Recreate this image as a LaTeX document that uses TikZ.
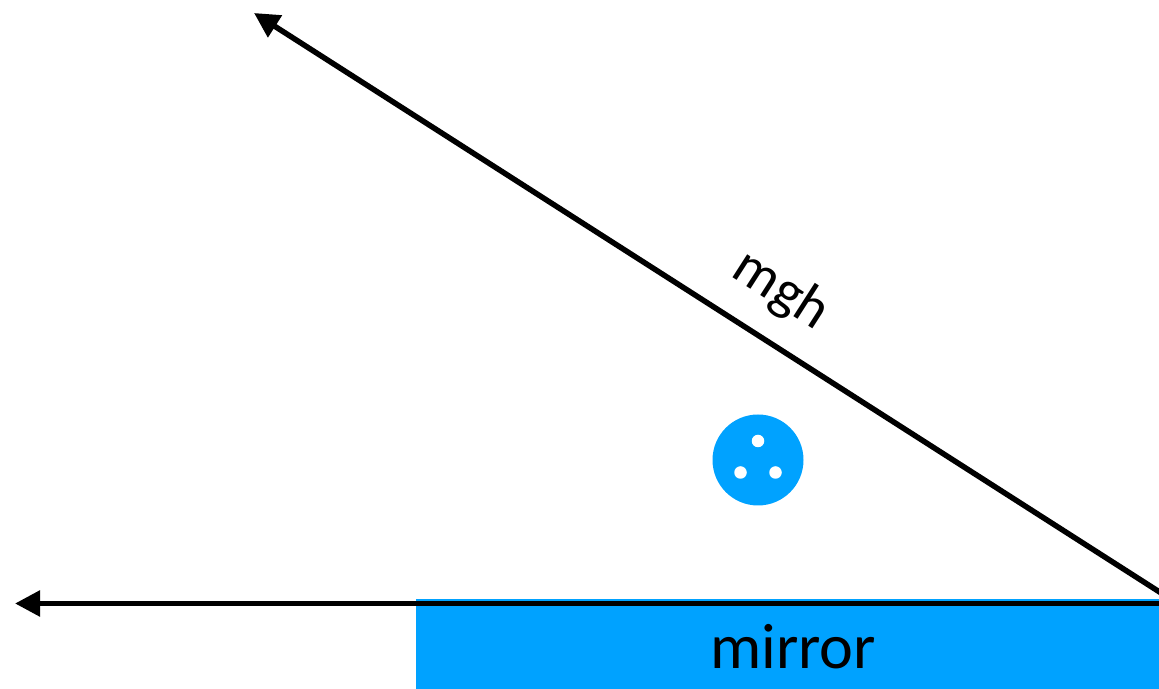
\documentclass[tikz,border=0pt]{standalone}
\usepackage{fontspec}
\setmainfont{Carlito}
\usetikzlibrary{arrows.meta, positioning}
\definecolor{mirrorblue}{HTML}{00A2FF}
\tikzset{
  ray/.style={-{Triangle[length=5mm, width=5mm]}, line width=1.1mm, color=black},
  mirrorbox/.style={rectangle, fill=mirrorblue, inner sep=0pt, minimum width=14.86cm, minimum height=1.79cm},
  ball/.style={circle, fill=mirrorblue, inner sep=0pt, minimum size=1.82cm},
  dot/.style={circle, fill=white, inner sep=0pt, minimum size=2.5mm},
  mirrorlabel/.style={font=\fontsize{36.5}{40}\selectfont},
  raylabel/.style={font=\fontsize{32.5}{40}\selectfont, rotate=-32.7},
}

\begin{document}
\begin{tikzpicture}
  \path[use as bounding box, clip] (0,0) rectangle (23.18,13.78);
  \node[mirrorbox, anchor=south east] (mirror) at (23.18,0) {};
  \node[mirrorlabel] (mirrortext) at (15.86,0.85) {mirror};
  \node[ball] (ball) at (15.16,4.58) {};
  \node[dot] (dota) at (15.16,4.96) {};
  \node[dot] (dotb) at (14.81,4.33) {};
  \node[dot] (dotc) at (15.51,4.33) {};
  \coordinate (hinge) at (23.3,1.71);
  \coordinate (hingeup) at (23.3,1.87);
  \coordinate (flat) at (0.3,1.71);
  \coordinate (steep) at (5.08,13.52);
  \draw[ray] (hinge) -- (flat);
  \draw[ray] (hingeup) -- (steep);
  \node[raylabel] (mgh) at (15.62,7.97) {mgh};
\end{tikzpicture}
\end{document}
